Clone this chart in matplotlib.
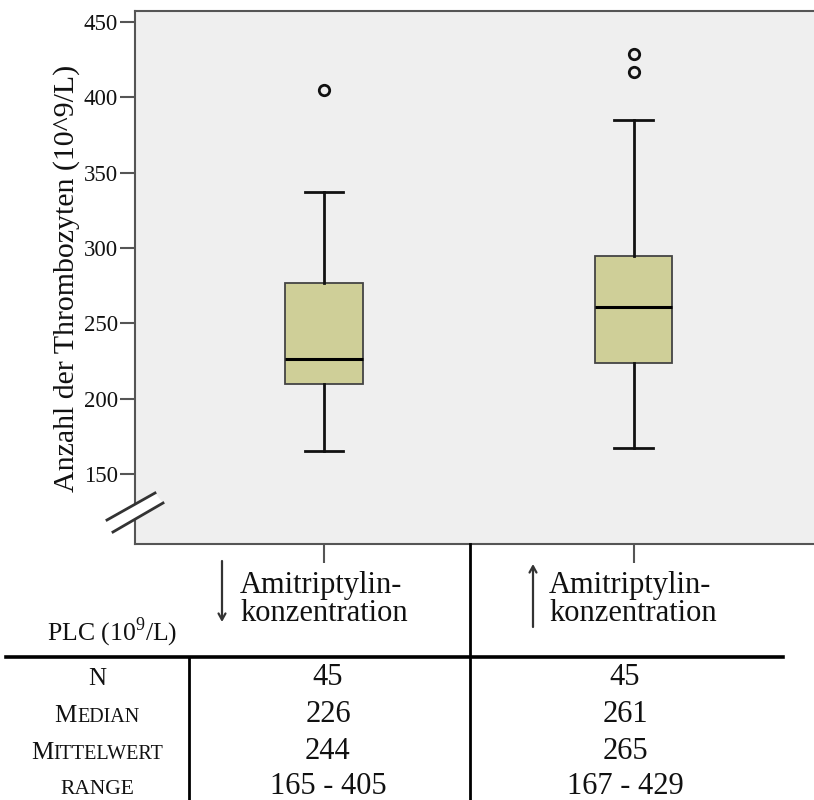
import matplotlib
matplotlib.use("Agg")
import matplotlib.pyplot as plt
from matplotlib.lines import Line2D
from matplotlib.patches import Polygon

plt.rcParams.update({
    "font.family": ["Liberation Serif", "DejaVu Serif"],
    "mathtext.fontset": "custom",
    "mathtext.rm": "Liberation Serif",
})

W, H = 814, 800

# platelet counts (10^9/L) per amitriptyline group
positions = [1, 2]
q1 = [210, 224]
medians = [226, 261]
q3 = [277, 295]
whis_lo = [165, 167]
whis_hi = [337, 385]
fliers = [[405], [417, 429]]

# summary table below the plot
row_labels = [[("N", 18)],
              [("M", 18), ("EDIAN", 14.5)],
              [("M", 18), ("ITTELWERT", 14.5)],
              [("RANGE", 15.5)]]
col_low = ["45", "226", "244", "165 - 405"]
col_high = ["45", "261", "265", "167 - 429"]

INK = "#111111"
FRAME = "#555555"
BOX_F = "#cfcf98"


def fx(px):
    return px / W


def fy(py):
    return 1 - py / H


fig = plt.figure(figsize=(W / 100, H / 100), dpi=100)
ax = fig.add_axes([fx(135), fy(544), fx(835) - fx(135), fy(11) - fy(544)])
ax.set_facecolor("#efefef")

stats = []
for i in range(len(positions)):
    stats.append(dict(med=medians[i], q1=q1[i], q3=q3[i],
                      whislo=whis_lo[i], whishi=whis_hi[i], fliers=fliers[i]))

ax.bxp(stats, positions=positions, widths=0.249, capwidths=0.123,
       patch_artist=True, manage_ticks=False,
       boxprops=dict(facecolor=BOX_F, edgecolor="#444444", linewidth=1.3),
       medianprops=dict(color="black", linewidth=2.2),
       whiskerprops=dict(color=INK, linewidth=2.0),
       capprops=dict(color=INK, linewidth=2.0),
       flierprops=dict(marker="o", markersize=7.5, markerfacecolor="none",
                       markeredgecolor=INK, markeredgewidth=2.0))

ax.set_xlim(1 - 189 / 309.5, 2 + 201.5 / 309.5)
ax.set_ylim(150 - 70 / 1.5067, 450 + 11 / 1.5067)
ax.set_yticks([150, 200, 250, 300, 350, 400, 450])
ax.set_xticks(positions)
ax.set_xticklabels([])
ax.tick_params(axis="y", length=11, width=1.5, color=FRAME, pad=1.5,
               labelsize=16.5, labelcolor=INK)
ax.tick_params(axis="x", length=13.5, width=1.5, color=FRAME)
for sp in ax.spines.values():
    sp.set_color(FRAME)
    sp.set_linewidth(1.5)

fig.text(fx(67), fy(278), "Anzahl der Thrombozyten (10^9/L)", rotation=90,
         ha="center", va="center", fontsize=21.5, color=INK)

# axis break on the lower y spine
gap = Polygon([(fx(107), fy(520)), (fx(155), fy(493)),
               (fx(163), fy(503)), (fx(113), fy(532))],
              closed=True, transform=fig.transFigure, facecolor="white",
              edgecolor="none", zorder=5)
fig.add_artist(gap)
for (x0, y0, x1, y1) in [(107, 520, 155, 493), (113, 532, 163, 503)]:
    fig.add_artist(Line2D([fx(x0), fx(x1)], [fy(y0), fy(y1)],
                          color="#333333", lw=2.0, zorder=6))

# group headers with arrows
for (tx, ax0, tail, tip) in [(240, 222, 561, 622), (549, 533, 627, 564)]:
    fig.text(fx(tx), fy(593), "Amitriptylin-", ha="left", va="baseline",
             fontsize=22, color=INK)
    fig.text(fx(tx), fy(621), "konzentration", ha="left", va="baseline",
             fontsize=22, color=INK)
    fig.add_artist(plt.Annotation(
        "", xy=(fx(ax0), fy(tip)), xytext=(fx(ax0), fy(tail)),
        xycoords="figure fraction", textcoords="figure fraction",
        arrowprops=dict(arrowstyle="->,head_length=0.45,head_width=0.25",
                        color="#333333", lw=1.6, shrinkA=0, shrinkB=0)))

fig.text(fx(47), fy(640), "PLC (10$^9$/L)", ha="left", va="baseline",
         fontsize=18.5, color=INK)

# table rules
fig.add_artist(Line2D([fx(6), fx(783)], [fy(657), fy(657)], color="black", lw=2.6))
fig.add_artist(Line2D([fx(189), fx(189)], [fy(657), fy(800)], color="black", lw=2.0))
fig.add_artist(Line2D([fx(470), fx(470)], [fy(544), fy(800)], color="black", lw=2.0))

renderer = fig.canvas.get_renderer()
baselines = [685, 722, 759, 794]
for parts, base in zip(row_labels, baselines):
    widths = []
    for txt, fs in parts:
        t = fig.text(0, 0, txt, fontsize=fs)
        widths.append(t.get_window_extent(renderer).width)
        t.remove()
    x = 97 - sum(widths) / 2
    for (txt, fs), w in zip(parts, widths):
        fig.text(fx(x), fy(base), txt, ha="left", va="baseline",
                 fontsize=fs, color=INK)
        x += w

for vals, cx in [(col_low, 328), (col_high, 625)]:
    for v, base in zip(vals, baselines):
        fig.text(fx(cx), fy(base), v, ha="center", va="baseline",
                 fontsize=22, color=INK)

fig.savefig("out.png", dpi=100, facecolor="white")
